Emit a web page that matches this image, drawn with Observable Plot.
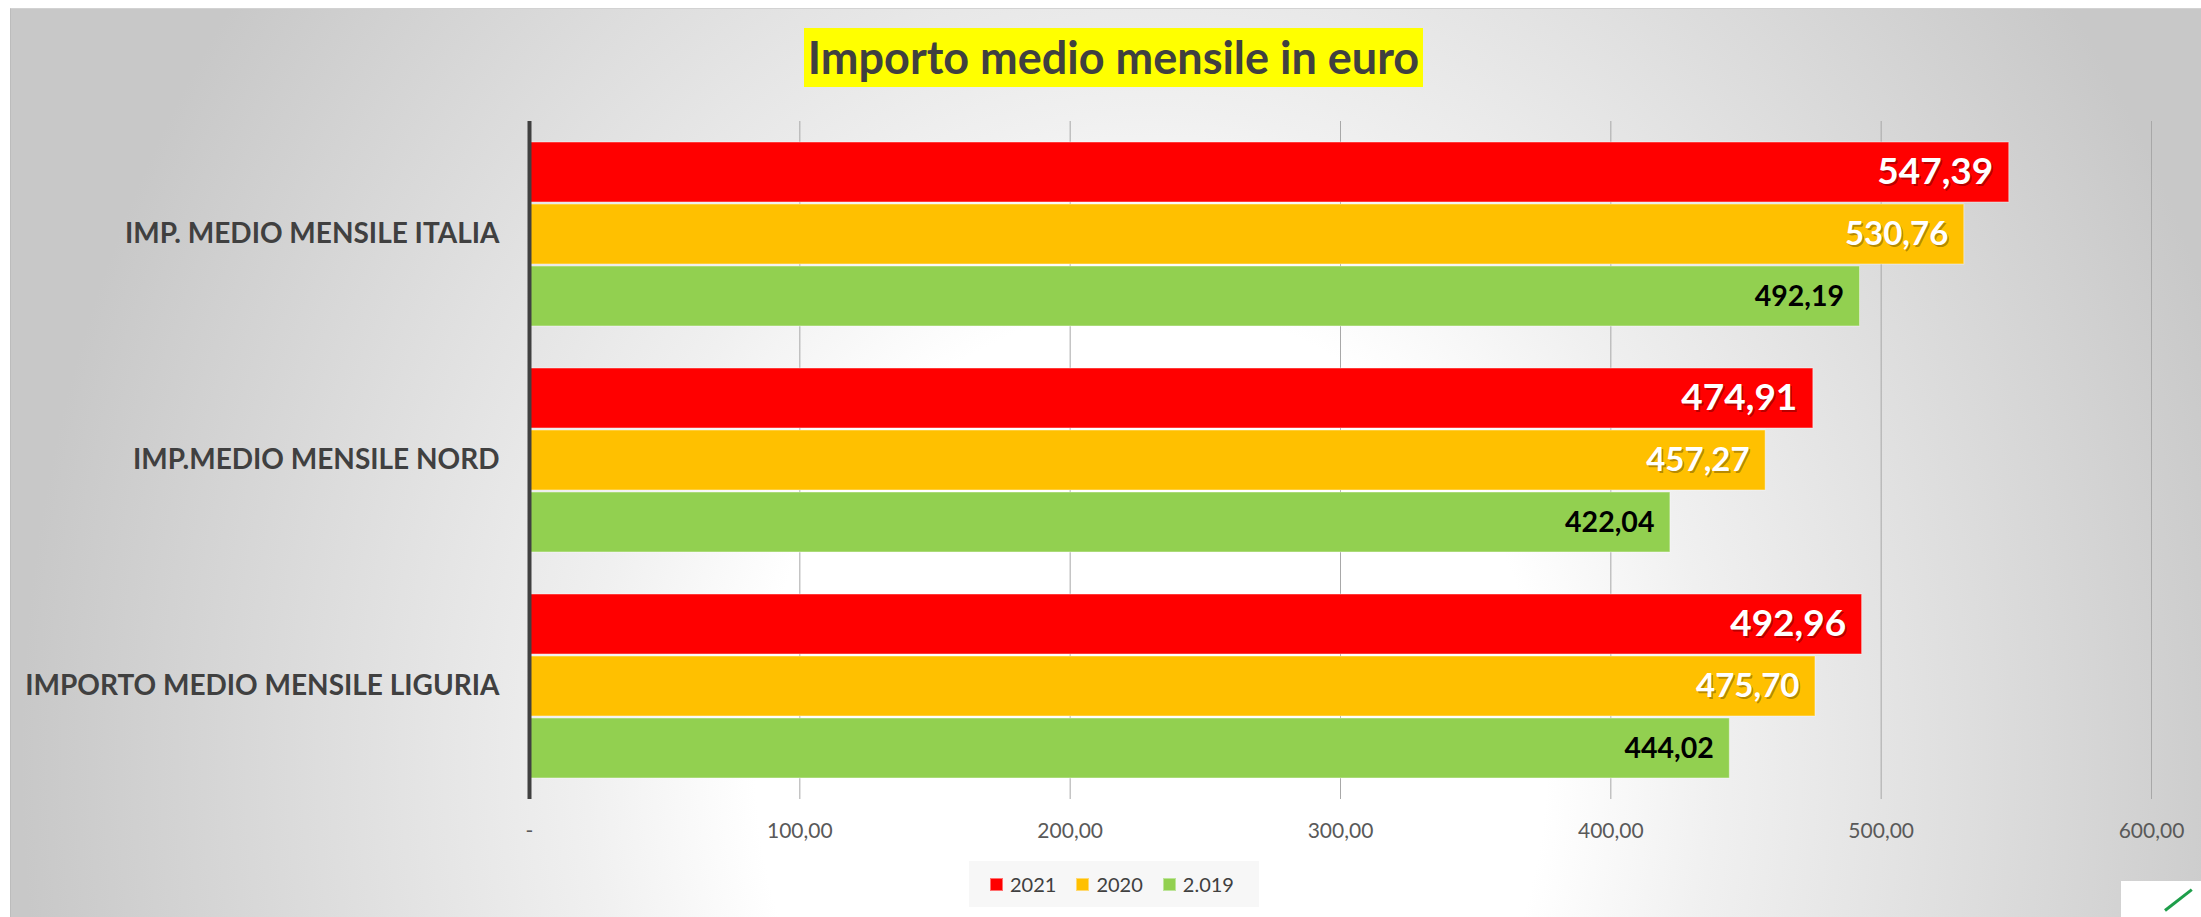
<!DOCTYPE html>
<html>
<head>
<meta charset="utf-8">
<script src="https://cdn.jsdelivr.net/npm/d3@7"></script>
<script src="https://cdn.jsdelivr.net/npm/@observablehq/plot@0.6"></script>
<style>
html, body { margin: 0; padding: 0; width: 2201px; height: 917px; overflow: hidden; background: #fff; font-family: Lato, sans-serif; }
#chart { position: absolute; left: 10px; top: 8px; width: 2191px; height: 909px; box-sizing: border-box;
  background: radial-gradient(ellipse 1130px 1300px at 1140px 752px, #ffffff 0%, #ffffff 35%, #f0f0f0 50%, #dcdcdc 75%, #c8c8c8 100%);
  border-left: 1px solid #bcbcbc; border-top: 1px solid #d2d2d2; }
#title { position: absolute; left: 804px; top: 28px; width: 619px; height: 59px; background: #ffff00; color: #404040;
  font-weight: 700; font-size: 45px; line-height: 59px; text-align: center; white-space: nowrap; }
#plot { position: absolute; left: 0; top: 100px; }
#legend { position: absolute; left: 969px; top: 861px; width: 290px; height: 46px; background: #f7f7f7; box-sizing: border-box;
  display: flex; align-items: center; padding-left: 21px; font-size: 20px; color: #404040; }
.item { display: flex; align-items: center; margin-right: 20px; }
.sw { width: 13px; height: 13px; box-sizing: border-box; margin-right: 7px; }
#logo { position: absolute; left: 2121px; top: 881px; width: 80px; height: 36px; background: #fff; overflow: hidden; }
#logo div { position: absolute; left: 44px; top: 28px; width: 34px; height: 3px; background: #1e9e4a; transform: rotate(-38deg); transform-origin: left center; }
</style>
</head>
<body>
<div id="chart"></div>
<div id="title"></div>
<div id="plot"></div>
<div id="legend"></div>
<div id="logo"><div></div></div>
<script>
const titleText = "Importo medio mensile in euro";
const groups = ["IMP. MEDIO MENSILE ITALIA", "IMP.MEDIO MENSILE NORD", "IMPORTO MEDIO MENSILE LIGURIA"];
const years = ["2021", "2020", "2.019"];
const values2021 = [547.39, 474.91, 492.96];
const values2020 = [530.76, 457.27, 475.70];
const values2019 = [492.19, 422.04, 444.02];
const xTicks = [0, 100, 200, 300, 400, 500, 600];

const colors = ["#ff0000", "#ffc000", "#92d050"];
const swatchBorders = ["#ff7070", "#ffd970", "#bde49a"];
const labelColors = ["#ffffff", "#ffffff", "#000000"];
const labelSizes = [37, 33, 28.5];

const seriesValues = [values2021, values2020, values2019];
const data = [];
groups.forEach((g, i) => {
  years.forEach((y, j) => {
    data.push({group: g, year: y, value: seriesValues[j][i]});
  });
});

const fmt = v => v.toFixed(2).replace(".", ",");
const tickFmt = v => v === 0 ? "-" : fmt(v);

document.getElementById("title").textContent = titleText;

const textMarks = [];
years.forEach((y, j) => {
  if (labelColors[j] === "#ffffff") {
    textMarks.push(Plot.text(data, {
      filter: d => d.year === y, x: "value", y: "year", fy: "group",
      text: d => fmt(d.value), textAnchor: "end", dx: -14.5, dy: 2,
      fill: "#000000", fillOpacity: 0.3, fontSize: labelSizes[j], fontWeight: "bold"
    }));
  }
  textMarks.push(Plot.text(data, {
    filter: d => d.year === y, x: "value", y: "year", fy: "group",
    text: d => fmt(d.value), textAnchor: "end", dx: -16,
    fill: labelColors[j], fontSize: labelSizes[j], fontWeight: "bold"
  }));
});

const chart = Plot.plot({
  width: 2201,
  height: 770,
  marginLeft: 529,
  marginRight: 50,
  marginTop: 21,
  marginBottom: 71,
  style: {background: "transparent", fontFamily: "Lato, sans-serif", color: "#404040", overflow: "visible"},
  x: {domain: [0, 600], label: null},
  y: {domain: years, paddingInner: 0.03, paddingOuter: 0.33, axis: null},
  fy: {domain: groups, padding: 0, label: null},
  color: {domain: years, range: colors},
  marks: [
    Plot.ruleX(xTicks.filter(t => t > 0), {stroke: "#a8a8a8", strokeWidth: 1}),
    Plot.barX(data, {x: "value", y: "year", fy: "group", fill: "year", stroke: "#ffffff", strokeOpacity: 0.45, strokeWidth: 1}),
    Plot.ruleX([0], {stroke: "#404040", strokeWidth: 4}),
    ...textMarks,
    Plot.axisFy({anchor: "left", tickSize: 0, tickPadding: 30, fontSize: 28, fontWeight: "bold", fill: "#404040", label: null}),
    Plot.axisX({ticks: xTicks, tickFormat: tickFmt, tickSize: 0, tickPadding: 24, fontSize: 21, fill: "#595959", label: null})
  ]
});
document.getElementById("plot").appendChild(chart);

const legend = document.getElementById("legend");
years.forEach((y, j) => {
  const item = document.createElement("div");
  item.className = "item";
  const sw = document.createElement("div");
  sw.className = "sw";
  sw.style.background = colors[j];
  sw.style.border = "1px solid " + swatchBorders[j];
  const t = document.createElement("span");
  t.textContent = y;
  item.appendChild(sw);
  item.appendChild(t);
  legend.appendChild(item);
});
</script>
</body>
</html>
